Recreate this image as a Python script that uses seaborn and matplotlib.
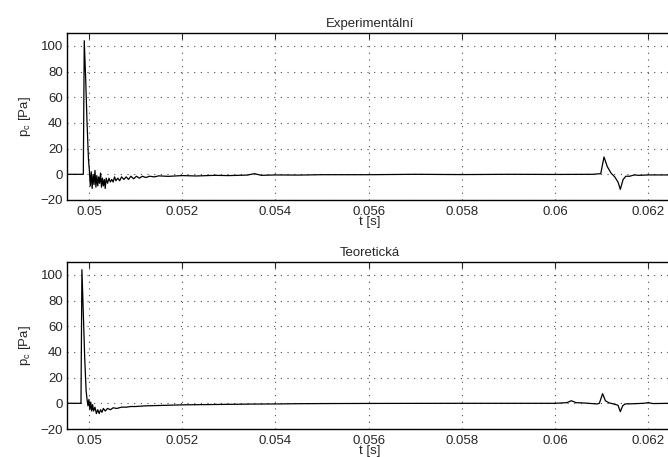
import matplotlib
matplotlib.use("Agg")
import matplotlib.pyplot as plt
import pandas as pd
import seaborn as sns

# values (time in s, pressure in Pa)
t_exp = [0.04953, 0.04988, 0.04990, 0.04993, 0.04996, 0.04999, 0.05001, 0.05003,
         0.05005, 0.05007, 0.05009, 0.05011, 0.05013, 0.05015, 0.05017, 0.05019,
         0.05021, 0.05023, 0.05025, 0.05027, 0.05029, 0.05031, 0.05033, 0.05035,
         0.05037, 0.05040, 0.05043, 0.05046, 0.05049, 0.05052, 0.05055, 0.05058,
         0.05062, 0.05066, 0.05070, 0.05075, 0.05080, 0.05085, 0.05090, 0.05096,
         0.05102, 0.05108, 0.05115, 0.05122, 0.05130, 0.05140, 0.0515, 0.0517,
         0.0520, 0.0523, 0.0527, 0.0530, 0.0534, 0.05355, 0.0537, 0.0540,
         0.0545, 0.0550, 0.0560, 0.0570, 0.0580, 0.0590, 0.0600, 0.0608,
         0.06098, 0.06105, 0.06112, 0.06120, 0.06128, 0.06135, 0.06140, 0.06146,
         0.06152, 0.06160, 0.06170, 0.06180, 0.06200, 0.06250]
p_exp = [0, 0, 104, 75, 40, 12, 3, -9,
         2, -11, 0, -8, 3, -10, -1, -9,
         -2, -7, 1, -10, -3, -9, -4, -11,
         -3, -7, -3, -6, -4, -6, -2, -5,
         -3, -5, -2, -4, -2, -4, -1.5, -3.5,
         -1.5, -3, -1.5, -2.5, -1.5, -2, -1.2, -1.6,
         -1.0, -1.3, -0.8, -1.0, -0.6, 0.5, -0.8, -0.5,
         -0.6, -0.3, -0.3, 0, -0.2, 0, -0.1, 0,
         0.5, 13.5, 6, 1, -2, -6, -11.7, -4,
         -1.5, -1.5, -0.5, -0.8, -0.5, -0.5]

t_teo = [0.04953, 0.04983, 0.04985, 0.04988, 0.04991, 0.04994, 0.04996, 0.04998,
         0.05000, 0.05002, 0.05004, 0.05006, 0.05008, 0.05010, 0.05013, 0.05016,
         0.05019, 0.05022, 0.05025, 0.05028, 0.05031, 0.05035, 0.05040, 0.05046,
         0.05052, 0.05060, 0.05070, 0.05080, 0.05090, 0.05100, 0.05120, 0.05140,
         0.05170, 0.0520, 0.0525, 0.0530, 0.0535, 0.0540, 0.0545, 0.0550,
         0.0560, 0.0580, 0.0600, 0.06025, 0.06035, 0.06045, 0.0606, 0.0609,
         0.06095, 0.06102, 0.06108, 0.06115, 0.06125, 0.06135, 0.0614, 0.06145,
         0.0615, 0.0617, 0.0619, 0.0620, 0.0621, 0.0625]
p_teo = [0, 0, 104, 70, 35, 10, 3, -2,
         3, -5, 1, -6, -1, -6, -3, -8,
         -5, -8, -5, -7, -4, -6, -4, -5,
         -3.5, -4, -3, -3, -2.5, -2.5, -2, -1.8,
         -1.5, -1.2, -1.0, -0.8, -0.6, -0.5, -0.3, -0.2,
         -0.1, 0, 0, 0.5, 2, 0.5, 0.3, -0.5,
         0, 7.5, 2, 0.5, -0.5, -1.5, -6.5, -2,
         -0.5, -0.3, 0, 0.5, -0.2, 0]

titles = ["Experimentální", "Teoretická"]
x_ticks = [0.05, 0.052, 0.054, 0.056, 0.058, 0.06, 0.062]
x_ticklabels = ["0.05", "0.052", "0.054", "0.056", "0.058", "0.06", "0.062"]
y_ticks = [-20, 0, 20, 40, 60, 80, 100]

sns.set_style("white")
plt.rcParams["font.family"] = ["Liberation Sans", "DejaVu Sans"]
fs = 9.5

fig = plt.figure(figsize=(6.68, 4.57), dpi=100)
ax1 = fig.add_axes([67 / 668, 1 - 200 / 457, 606 / 668, 167 / 457])
ax2 = fig.add_axes([67 / 668, 1 - 429 / 457, 606 / 668, 167 / 457])

series = [(t_exp, p_exp), (t_teo, p_teo)]
for ax, (t, p), title in zip([ax1, ax2], series, titles):
    df = pd.DataFrame({"t": t, "p": p})
    sns.lineplot(data=df, x="t", y="p", ax=ax, color="black", linewidth=0.9,
                 estimator=None, sort=False)
    ax.set_xlim(0.04953, 0.06253)
    ax.set_ylim(-20, 110)
    ax.set_xticks(x_ticks)
    ax.set_xticklabels(x_ticklabels)
    ax.set_yticks(y_ticks)
    ax.grid(True, linestyle=(0, (1, 5)), color="0.3", linewidth=0.8)
    ax.tick_params(direction="in", top=True, right=True, length=4, width=0.8,
                   labelsize=fs, pad=3)
    ax.tick_params(axis="x", pad=4)
    for s in ax.spines.values():
        s.set_linewidth(1.0)
        s.set_color("black")
    ax.set_title(title, fontsize=fs, pad=4)
    ax.set_xlabel("t [s]", fontsize=fs, labelpad=-1)
    ax.set_ylabel(r"p$_\mathregular{c}$ [Pa]", fontsize=fs, labelpad=5)

fig.savefig("out.png", dpi=100)
